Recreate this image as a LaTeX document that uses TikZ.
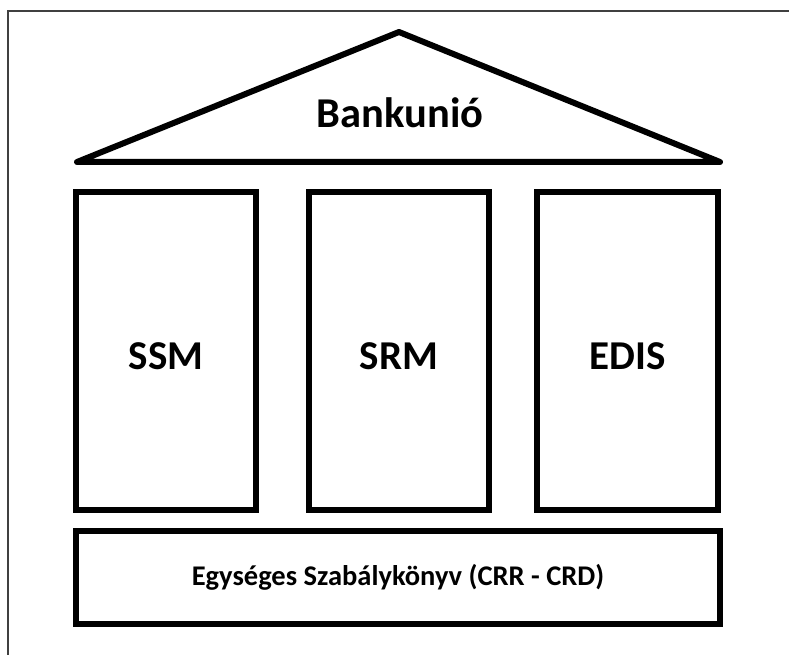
\documentclass[tikz,border=0pt]{standalone}
\usepackage{fontspec}
\setmainfont{Carlito}
\tikzset{
  pillar/.style={draw=black, line width=6pt, minimum width=180pt, minimum height=318pt, inner sep=0pt},
  pillartext/.style={font=\bfseries\fontsize{41}{48}\selectfont, inner sep=0pt},
  basebox/.style={draw=black, line width=6pt, minimum width=644pt, minimum height=93pt, inner sep=0pt, font=\bfseries\fontsize{28.5}{34}\selectfont},
  roof/.style={draw=black, line width=6pt, line join=round},
  frameline/.style={draw=black!75, line width=1.5pt}
}
\begin{document}
\begin{tikzpicture}[x=1pt, y=-1pt]
\useasboundingbox (0,0) rectangle (789,655);
\draw[frameline] (789,11) -- (8,11) -- (8,655);
\coordinate (rl) at (77,162);
\coordinate (ra) at (399,32);
\coordinate (rr) at (720,162);
\draw[roof] (rl) -- (ra) -- (rr) -- cycle;
\node[font=\bfseries\fontsize{42.5}{50}\selectfont] (bank) at (400,113) {Bankunió};
\node[pillar] (ssm) at (166,351) {};
\node[pillar] (srm) at (399,351) {};
\node[pillar, minimum width=181pt] (edis) at (627.5,351) {};
\node[pillartext] (ssmt) at ([yshift=-5pt]ssm.center) {SSM};
\node[pillartext] (srmt) at ([yshift=-5pt]srm.center) {SRM};
\node[pillartext] (edist) at ([yshift=-5pt]edis.center) {EDIS};
\node[basebox] (base) at (398,577.5) {Egységes Szabálykönyv (CRR - CRD)};
\end{tikzpicture}
\end{document}
